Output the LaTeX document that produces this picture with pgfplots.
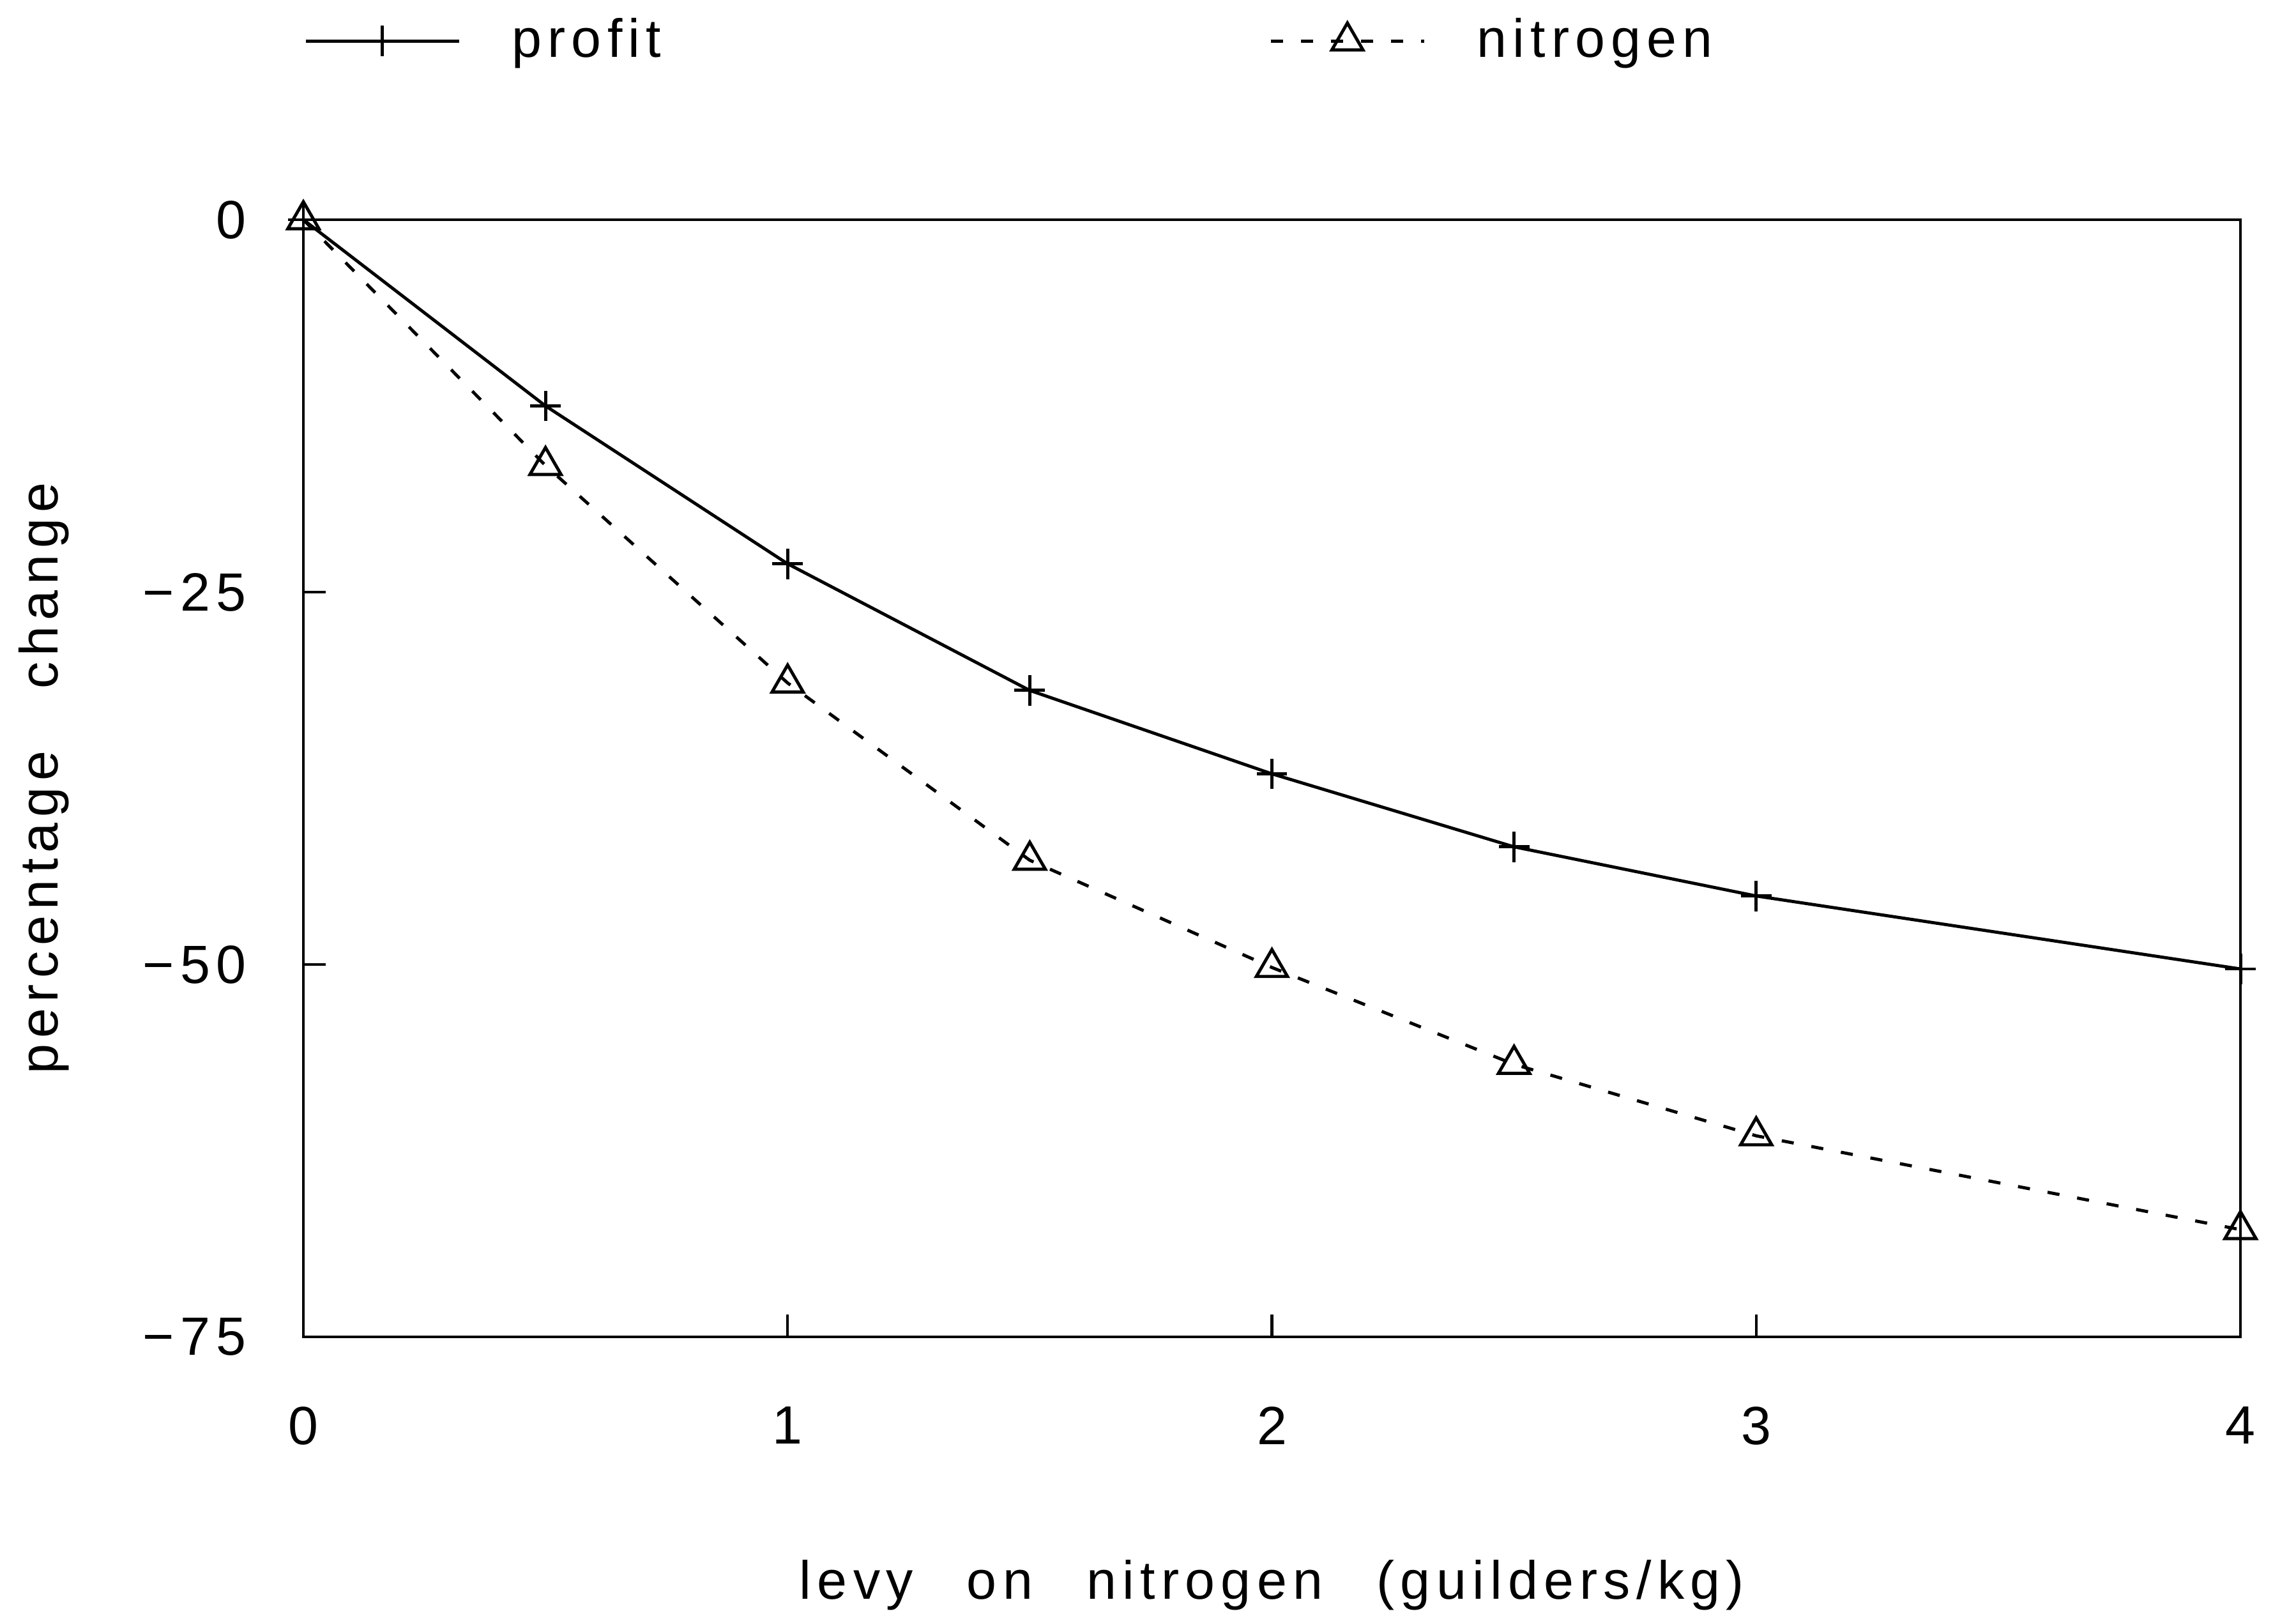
\documentclass[border=0pt]{standalone}
\usepackage{fontspec}
\setmainfont{Liberation Sans}[LetterSpace=11]
\usepackage{pgfplots}
\pgfplotsset{compat=1.18}
\usetikzlibrary{plotmarks}
\newcommand{\ws}{\hspace{1.0em}}
\newcommand{\lf}{\fontsize{12}{14}\selectfont}
\begin{document}
\begin{tikzpicture}
\begin{axis}[
 name=ax,
 scale only axis,
 width=15.165cm, height=8.745cm,
 xmin=0, xmax=4, ymin=-75, ymax=0,
 clip=false,
 axis line style={line width=0.6pt},
 xtick={0,1,2,3,4}, xticklabels={0,1,2,3,4},
 ytick={-75,-50,-25,0}, yticklabels={−75,−50,−25,0},
 tick pos=left, tick align=inside,
 major tick length=0.175cm,
 every tick/.style={black, line width=0.6pt},
 xticklabel style={inner sep=0pt, anchor=north, yshift=-0.54cm, font=\lf},
 yticklabel style={inner sep=0pt, anchor=east, xshift=-0.44cm, font=\lf},
 xlabel={levy\ws on\ws nitrogen\ws (guilders/kg)},
 ylabel={percentage\hspace{1.15em}change},
 xlabel style={at={(axis description cs:0.5,-0.222)}, anchor=center, font=\lf},
 ylabel style={at={(axis description cs:-0.134,0.5)}, anchor=center, font=\lf},
 legend columns=2,
 legend style={draw=none, fill=none, at={(axis description cs:0,1.16)}, anchor=west, inner sep=0pt, font=\lf, nodes={inner sep=0pt},
   /tikz/every odd column/.append style={column sep=0.4cm},
   /tikz/every even column/.append style={column sep=4.76cm}},
 legend image code/.code={\draw[mark repeat=2,mark phase=2] plot coordinates {(0cm,0cm)(0.6cm,0cm)(1.2cm,0cm)};},
]
\addplot[black, line width=0.7pt, mark=+, mark size=3.4pt] coordinates {
 (0,0) (0.5,-12.5) (1,-23.1) (1.5,-31.6) (2,-37.2) (2.5,-42.1) (3,-45.4) (4,-50.3)};
\addlegendentry{profit}
\addplot[black, line width=0.7pt, dash pattern=on 2.7pt off 4pt, mark=triangle, mark size=4pt, mark options={solid}] coordinates {
 (0,0) (0.5,-16.5) (1,-31.1) (1.5,-43.0) (2,-50.2) (2.5,-56.7) (3,-61.5) (4,-67.8)};
\addlegendentry{nitrogen}
\end{axis}
\pgfresetboundingbox
\path[use as bounding box] ([xshift=-2.375cm,yshift=-2.18cm]ax.south west) rectangle ([xshift=0.435cm,yshift=1.72cm]ax.north east);
\end{tikzpicture}
\end{document}
